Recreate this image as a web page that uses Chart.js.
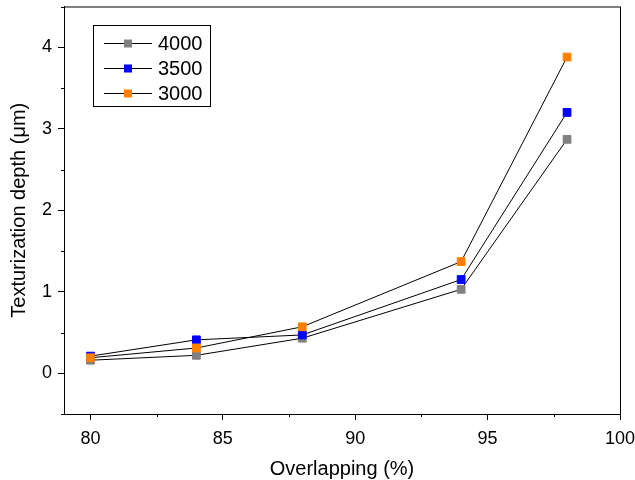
<!DOCTYPE html>
<html>
<head>
<meta charset="utf-8">
<script src="https://cdn.jsdelivr.net/npm/chart.js@4"></script>
<style>
  html, body { margin: 0; padding: 0; background: #fff; }
  #wrap { width: 635px; height: 480px; }
</style>
</head>
<body>
<div id="wrap"><canvas id="chart" width="635" height="480"></canvas></div>
<script>
// Overlapping (%) on the x axis
const overlapping = [80, 84, 88, 94, 98];
// Texturization depth (um) per series
const depth4000 = [0.16, 0.22, 0.43, 1.03, 2.87];
const depth3500 = [0.21, 0.41, 0.47, 1.15, 3.20];
const depth3000 = [0.19, 0.31, 0.57, 1.37, 3.88];
const seriesLabels = ['4000', '3500', '3000'];
const seriesColors = ['#808080', '#0000ff', '#ff8000'];
const xMajorTicks = [80, 85, 90, 95, 100];
const yMajorTicks = [0, 1, 2, 3, 4];

const FONT = "'Liberation Sans', Arial, sans-serif";

function points(values) {
    return overlapping.map((x, i) => ({ x: x, y: values[i] }));
}

function makeDataset(label, values, color, order) {
    return {
        label: label,
        data: points(values),
        showLine: true,
        borderColor: '#000',
        borderWidth: 1,
        pointStyle: 'rect',
        pointRadius: 5.5,
        pointBorderWidth: 1,
        pointBackgroundColor: color,
        pointBorderColor: color,
        order: order
    };
}

// frame on top/right + short minor ticks outside the axes
const framePlugin = {
    id: 'frame',
    afterDraw(chart) {
        const { ctx, chartArea: a, scales } = chart;
        ctx.save();
        ctx.strokeStyle = '#000';
        ctx.lineWidth = 1;
        ctx.strokeRect(a.left + 0.5, a.top + 0.5, a.right - a.left, a.bottom - a.top);
        ctx.beginPath();
        for (let v = 82.5; v < 100; v += 5) {
            const x = Math.round(scales.x.getPixelForValue(v)) + 0.5;
            ctx.moveTo(x, a.bottom);
            ctx.lineTo(x, a.bottom + 3);
        }
        for (let v = -0.5; v <= 4.5; v += 1) {
            const y = Math.round(scales.y.getPixelForValue(v)) + 0.5;
            ctx.moveTo(a.left - 3, y);
            ctx.lineTo(a.left, y);
        }
        ctx.stroke();
        ctx.restore();
    }
};

// legend box inside the plot, Origin style (line - marker - line)
const legendPlugin = {
    id: 'boxLegend',
    afterDraw(chart) {
        const ctx = chart.ctx;
        const left = 93, top = 25, w = 117, h = 81;
        ctx.save();
        ctx.fillStyle = '#fff';
        ctx.fillRect(left, top, w, h);
        ctx.strokeStyle = '#000';
        ctx.lineWidth = 1;
        ctx.strokeRect(left + 0.5, top + 0.5, w, h);
        ctx.font = '20px ' + FONT;
        ctx.textBaseline = 'middle';
        seriesLabels.forEach((label, i) => {
            const y = 43 + i * 25;
            ctx.beginPath();
            ctx.moveTo(104, y + 0.5);
            ctx.lineTo(152, y + 0.5);
            ctx.strokeStyle = '#000';
            ctx.stroke();
            ctx.fillStyle = seriesColors[i];
            ctx.fillRect(124, y - 3.5, 8, 8);
            ctx.fillStyle = '#000';
            ctx.fillText(label, 158, y + 1);
        });
        ctx.restore();
    }
};

new Chart(document.getElementById('chart'), {
    type: 'scatter',
    data: {
        datasets: [
            makeDataset(seriesLabels[0], depth4000, seriesColors[0], 2),
            makeDataset(seriesLabels[1], depth3500, seriesColors[1], 1),
            makeDataset(seriesLabels[2], depth3000, seriesColors[2], 0)
        ]
    },
    options: {
        responsive: false,
        animation: false,
        layout: { padding: { top: 5, right: 15, left: 0, bottom: 0 } },
        plugins: {
            legend: { display: false },
            tooltip: { enabled: false }
        },
        scales: {
            x: {
                type: 'linear',
                min: 79,
                max: 100,
                afterBuildTicks: s => { s.ticks = xMajorTicks.map(v => ({ value: v })); },
                afterFit: s => { s.height = 66; s.paddingLeft = 0; s.paddingRight = 0; },
                grid: { drawOnChartArea: false, tickLength: 6, color: '#000' },
                border: { color: '#000', width: 1 },
                ticks: { color: '#000', font: { size: 18, family: FONT }, padding: 8, autoSkip: false, maxRotation: 0 },
                title: { display: true, text: 'Overlapping (%)', color: '#000', font: { size: 20, family: FONT }, padding: { top: 4, bottom: -1.5 } }
            },
            y: {
                type: 'linear',
                min: -0.5,
                max: 4.5,
                afterBuildTicks: s => { s.ticks = yMajorTicks.map(v => ({ value: v })); },
                afterFit: s => { s.width = 64; s.paddingTop = 0; s.paddingBottom = 0; },
                grid: { drawOnChartArea: false, tickLength: 6, color: '#000' },
                border: { color: '#000', width: 1 },
                ticks: { color: '#000', font: { size: 18, family: FONT }, padding: 6 },
                title: { display: true, text: 'Texturization depth (μm)', color: '#000', font: { size: 20, family: FONT }, padding: { top: 7 } }
            }
        }
    },
    plugins: [framePlugin, legendPlugin]
});
</script>
</body>
</html>
